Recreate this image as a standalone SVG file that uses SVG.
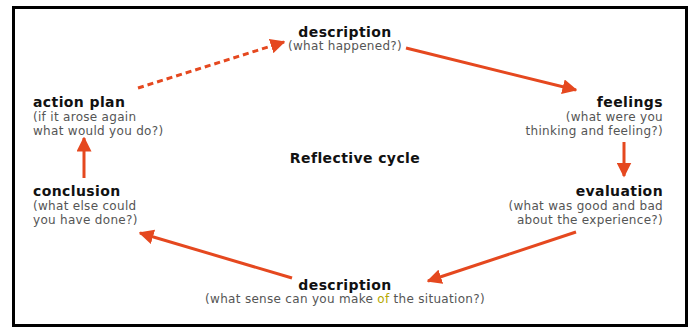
<svg xmlns="http://www.w3.org/2000/svg" width="693" height="329" viewBox="0 0 693 329">
<defs>
<marker id="ah" viewBox="0 0 10 10" refX="9" refY="5" markerWidth="5" markerHeight="5" orient="auto" markerUnits="strokeWidth"><path d="M0,0 L10,5 L0,10 z" fill="#e5481f"/></marker>
<style>
.t{font-family:"DejaVu Sans",Verdana,sans-serif;font-weight:bold;font-size:14px;letter-spacing:0.4px;fill:#111}
.s{font-family:"DejaVu Sans",Verdana,sans-serif;font-size:12px;letter-spacing:0.3px;fill:#555}
.c{stroke:#e5481f;stroke-width:3;fill:none;marker-end:url(#ah)}
.d{stroke-dasharray:6,4}
</style>
</defs>
<rect x="13.5" y="7.5" width="673" height="318" fill="#fff" stroke="#000" stroke-width="3"/>
<g id="connectors">
<line class="c d" x1="138" y1="88" x2="284" y2="42"/>
<line class="c" x1="406" y1="48" x2="576" y2="90"/>
<line class="c" x1="624" y1="142" x2="624" y2="176"/>
<line class="c" x1="576" y1="232" x2="428" y2="281"/>
<line class="c" x1="292" y1="278" x2="140" y2="233"/>
<line class="c" x1="84" y1="178" x2="84" y2="138"/>
</g>
<g id="top">
<text class="t" x="345" y="37" text-anchor="middle">description</text>
<text class="s" x="345" y="50" text-anchor="middle">(what happened?)</text>
</g>
<g id="feelings">
<text class="t" x="663" y="107" text-anchor="end">feelings</text>
<text class="s" x="663" y="121" text-anchor="end">(what were you</text>
<text class="s" x="663" y="135" text-anchor="end">thinking and feeling?)</text>
</g>
<g id="evaluation">
<text class="t" x="663" y="196" text-anchor="end">evaluation</text>
<text class="s" x="663" y="210" text-anchor="end">(what was good and bad</text>
<text class="s" x="663" y="224" text-anchor="end">about the experience?)</text>
</g>
<g id="bottom">
<text class="t" x="345" y="290" text-anchor="middle">description</text>
<text class="s" x="345" y="303" text-anchor="middle">(what sense can you make <tspan fill="#b5a800">of</tspan> the situation?)</text>
</g>
<g id="conclusion">
<text class="t" x="33" y="196">conclusion</text>
<text class="s" x="33" y="210">(what else could</text>
<text class="s" x="33" y="224">you have done?)</text>
</g>
<g id="action">
<text class="t" x="33" y="107">action plan</text>
<text class="s" x="33" y="121">(if it arose again</text>
<text class="s" x="33" y="135">what would you do?)</text>
</g>
<g id="center">
<text class="t" x="355" y="163" text-anchor="middle">Reflective cycle</text>
</g>
</svg>
